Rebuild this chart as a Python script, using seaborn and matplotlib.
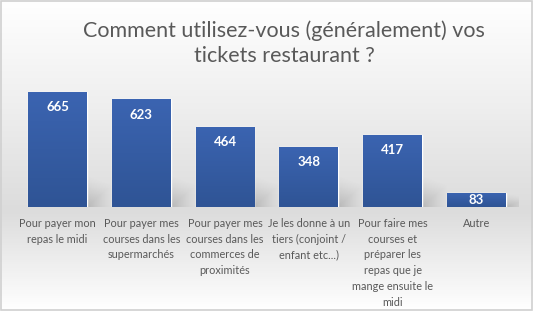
import numpy as np
import pandas as pd
import matplotlib
matplotlib.use("Agg")
import matplotlib.pyplot as plt
import seaborn as sns
from matplotlib.colors import LinearSegmentedColormap
from matplotlib.patches import Rectangle

categories = [
    "Pour payer mon\nrepas le midi",
    "Pour payer mes\ncourses dans les\nsupermarchés",
    "Pour payer mes\ncourses dans les\ncommerces de\nproximités",
    "Je les donne à un\ntiers (conjoint /\nenfant etc...)",
    "Pour faire mes\ncourses et\npréparer les\nrepas que je\nmange ensuite le\nmidi",
    "Autre",
]
values = [665, 623, 464, 348, 417, 83]
title = "Comment utilisez-vous (généralement) vos\ntickets restaurant ?"

sns.set_theme(style="white")
plt.rcParams['font.family'] = ['Lato', 'DejaVu Sans']

fig = plt.figure(figsize=(5.33, 3.11), dpi=100)

# background gradient
bg = fig.add_axes([0, 0, 1, 1], zorder=0)
grad = np.linspace(0, 1, 311).reshape(-1, 1)
cmap_bg = LinearSegmentedColormap.from_list(
    'bg', [(0, '#FFFFFF'), (0.35, '#EEEEEE'), (0.68, '#DCDCDC'), (1, '#FFFFFF')])
bg.imshow(grad, aspect='auto', cmap=cmap_bg, extent=[0, 1, 0, 1], origin='upper')
bg.set_xlim(0, 1)
bg.set_ylim(0, 1)
bg.axis('off')
bg.add_patch(Rectangle((0.001, 0.002), 0.997, 0.995, fill=False,
                       edgecolor='#D0D0D0', linewidth=1.2, transform=bg.transAxes))

ax = fig.add_axes([0.0293, 0.3344, 0.943, 0.389], zorder=1)
ax.patch.set_alpha(0)
df = pd.DataFrame({'cat': categories, 'val': values})
sns.barplot(data=df, x='cat', y='val', color='#3359A3', width=0.7,
            saturation=1, ax=ax, errorbar=None)

ax.set_xlim(-0.5, 5.5)
ax.set_ylim(0, 700)

# soft shadow to the right of each bar
nx, ny = 40, 40
u = np.linspace(0, 1, nx)[None, :]
vv = np.linspace(1, 0, ny)[:, None]
alpha = np.clip(1 - np.maximum(u * 1.0, vv * 0.95 + u * 0.3), 0, 1) ** 1.3 * 0.28
shadow = np.zeros((ny, nx, 4))
shadow[..., 0:3] = 0.35
shadow[..., 3] = alpha

bar_cmap = LinearSegmentedColormap.from_list('bar', ['#2F5495', '#3B64B1'])
for p in list(ax.patches):
    x0, y0 = p.get_x(), p.get_y()
    w, h = p.get_width(), p.get_height()
    sh_h = min(h * 0.9, 175)
    ax.imshow(shadow, extent=[x0 + w, x0 + w + 0.3, 0, sh_h], aspect='auto',
              origin='upper', zorder=p.get_zorder() - 0.5, interpolation='bilinear')
    g = np.linspace(1, 0, 100).reshape(-1, 1)
    im = ax.imshow(g, extent=[x0, x0 + w, y0, y0 + h], aspect='auto',
                   cmap=bar_cmap, origin='upper', zorder=p.get_zorder() + 0.1)
    im.set_clip_path(p)

ax.set_xlim(-0.5, 5.5)
ax.set_ylim(0, 700)

for i, v in enumerate(values):
    top_px = ax.transData.transform((i, v))[1]
    base_px = ax.transData.transform((i, 0))[1]
    if top_px - base_px > 30:
        ax.annotate(str(v), (i, v), xytext=(0, -11), textcoords='offset points',
                    ha='center', va='center', color='white', fontweight='bold',
                    fontsize=9.5, zorder=5)
    else:
        ax.text(i, v / 2, str(v), ha='center', va='center', color='white',
                fontweight='bold', fontsize=9.5, zorder=5)

ax.set_xlabel('')
ax.set_ylabel('')
ax.set_yticks([])
ax.tick_params(axis='x', length=0, pad=8, labelsize=7.8, labelcolor='#595959')
for t in ax.get_xticklabels():
    t.set_linespacing(1.52)
for s in ax.spines.values():
    s.set_visible(False)

fig.text(284 / 533, 1 - 43 / 311, title, ha='center', va='center',
         fontsize=15.5, color='#595959', linespacing=1.3)

fig.savefig('out.png', dpi=100)
